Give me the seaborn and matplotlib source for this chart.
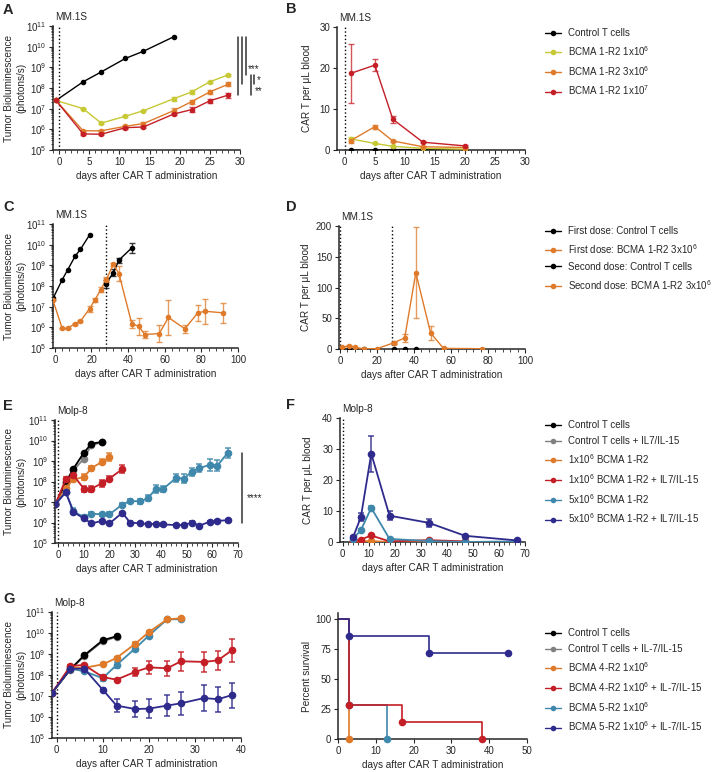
import numpy as np
import matplotlib
matplotlib.use("Agg")
import matplotlib.pyplot as plt
import matplotlib.transforms as mtransforms
from matplotlib.lines import Line2D
from matplotlib.ticker import AutoMinorLocator, LogLocator, NullFormatter
import seaborn as sns

# colours
BLACK = "#000000"
GRAY = "#808080"
LIME = "#c6c834"
ORANGE = "#de7a2a"
RED = "#c41e26"
TEAL = "#3f88ab"
NAVY = "#2f2b8c"

# ---- panel A / B : MM.1S dose titration ----
a_ctrl_x = [-0.5, 4, 7, 11, 14, 19]
a_ctrl = [2.5e7, 2e8, 6e8, 2.7e9, 6e9, 3e10]
a_days = [-0.5, 4, 7, 11, 14, 19, 22, 25, 28]
a_lo = [2.5e7, 1e7, 2e6, 4.3e6, 8e6, 3e7, 6.5e7, 2e8, 4.3e8]
a_lo_err = [0, 0.03, 0.03, 0.04, 0.03, 0.1, 0.08, 0.05, 0.04]
a_mid = [2.5e7, 8.5e5, 8.5e5, 1.4e6, 1.9e6, 8e6, 2.2e7, 6.5e7, 1.5e8]
a_mid_err = [0, 0.05, 0.05, 0.06, 0.07, 0.12, 0.1, 0.1, 0.1]
a_hi = [2.5e7, 6e5, 5.8e5, 1.2e6, 1.3e6, 5.5e6, 9e6, 2.4e7, 4.5e7]
a_hi_err = [0, 0.06, 0.05, 0.05, 0.07, 0.07, 0.12, 0.1, 0.12]

b_days = [1, 5, 8, 13, 20]
b_ctrl = [0, 0, 0.1, 0.1, 0]
b_lo = [2.7, 1.6, 0.9, 0.4, 0.2]
b_lo_err = [0.4, 0.2, 0.1, 0.1, 0.1]
b_mid = [2.3, 5.7, 2.2, 0.8, 0.6]
b_mid_err = [0.5, 0.5, 0.3, 0.1, 0.1]
b_hi = [18.7, 20.7, 7.5, 1.9, 1.0]
b_hi_err = [7.2, 1.5, 0.8, 0.3, 0.2]
ab_labels = ["Control T cells", "BCMA 1-R2 1x10$^6$", "BCMA 1-R2 3x10$^6$", "BCMA 1-R2 1x10$^7$"]

# ---- panel C / D : re-challenge ----
c_ctrl1_x = [-1, 4, 7, 11, 14, 19]
c_ctrl1 = [2.5e7, 2e8, 6e8, 2.7e9, 6e9, 3e10]
c_car1_x = [-1, 4, 7, 11, 14, 19, 22, 25, 28]
c_car1 = [2e7, 9e5, 9e5, 1.5e6, 2e6, 8e6, 2.2e7, 6.5e7, 2e8]
c_car1_err = [0, 0.03, 0.03, 0.05, 0.05, 0.15, 0.1, 0.12, 0.12]
c_ctrl2_x = [28, 32, 35, 42]
c_ctrl2 = [1.3e8, 4.5e8, 1.8e9, 7e9]
c_ctrl2_err = [0.2, 0.15, 0.12, 0.25]
c_car2_x = [28, 32, 35, 42, 46, 49, 57, 62, 71, 78, 82, 92]
c_car2 = [2e8, 1.1e9, 4e8, 1.5e6, 1.1e6, 4.5e5, 5e5, 3e6, 8.5e5, 5e6, 6e6, 5e6]
c_car2_err = [0.1, 0.05, 0.35, 0.2, 0.4, 0.15, 0.4, 0.85, 0.2, 0.4, 0.6, 0.5]

d_ctrl1_x = [1, 5, 8, 13]
d_ctrl1 = [0, 0, 0, 0]
d_car1_x = [1, 5, 8, 13, 20, 29]
d_car1 = [3, 5, 2.5, 0.5, 0.5, 10]
d_car1_err = [1, 1.5, 1, 0.3, 0.3, 2]
d_ctrl2_x = [29, 35, 41]
d_ctrl2 = [0, 0, 0]
d_car2_x = [29, 35, 41, 49, 56, 77]
d_car2 = [10, 18, 124, 26, 1, 0.5]
d_car2_err = [2, 6, 74, 12, 1, 0.3]
d_labels = ["First dose: Control T cells", "First dose: BCMA 1-R2 3x10$^6$",
            "Second dose: Control T cells", "Second dose: BCMA 1-R2 3x10$^6$"]

# ---- panel E / F : Molp-8, IL-7/IL-15 ----
e_days = [-1, 3, 6, 10, 13, 17, 20, 25, 28, 32, 35, 38, 41, 46, 49, 52, 55, 59, 62, 66]
e_ctrl = [8e6, 9e7, 4.3e8, 2.5e9, 7e9, 8.5e9]
e_ctrl_il = [8e6, 8e7, 3.5e8, 1.3e9, 6e9, 8e9]
e_low = [8e6, 5e7, 1.3e8, 1.6e8, 4.5e8, 9e8, 1.5e9]
e_low_err = [0, 0.1, 0.15, 0.15, 0.12, 0.12, 0.2]
e_low_il = [8e6, 1.3e8, 2e8, 4.5e7, 4.5e7, 8e7, 1.4e8, 4e8]
e_low_il_err = [0, 0.1, 0.12, 0.15, 0.15, 0.15, 0.1, 0.2]
e_high = [8e6, 3e7, 3.5e6, 1.8e6, 2.7e6, 2.5e6, 2.5e6, 7.5e6, 1.1e7, 1.1e7, 1.5e7,
          4.5e7, 4.5e7, 1.5e8, 1.4e8, 3e8, 4.5e8, 6.5e8, 6e8, 2.5e9]
e_high_err = [0, 0.1, 0.15, 0.1, 0.08, 0.08, 0.1, 0.1, 0.1, 0.12, 0.15, 0.2, 0.15,
              0.2, 0.2, 0.2, 0.2, 0.3, 0.25, 0.25]
e_high_il = [8e6, 3e7, 3.2e6, 1.6e6, 9e5, 1.2e6, 9e5, 3e6, 1e6, 9e5, 8.5e5, 8.5e5,
             8e5, 7.5e5, 7.5e5, 1e6, 7e5, 1.1e6, 1.2e6, 1.3e6]
e_high_il_err = [0, 0.05, 0.05, 0.05, 0.05, 0.05, 0.05, 0.05, 0.05, 0.05, 0.05,
                 0.05, 0.05, 0.05, 0.05, 0.05, 0.05, 0.05, 0.05, 0.08]

f_days = [4, 7, 11, 18, 33, 47, 67]
f_ctrl = [0, 0, 0, 0]
f_ctrl_il = [0, 0, 0, 0]
f_low = [0.1, 0.2, 0.3, 0, 0.2]
f_low_il = [0.3, 0.8, 2.1, 0.2, 0.6, 0.2]
f_high = [1, 3.8, 11, 1, 0.3, 0, 0.2]
f_high_err = [0.2, 0.5, 0.5, 0.3, 0.1, 0, 0.1]
f_high_il = [1.5, 8, 28.5, 8.5, 6.2, 2, 0.5]
f_high_il_err = [0.3, 1.2, 5.8, 1.5, 1.3, 0.4, 0.2]
ef_labels = ["Control T cells", "Control T cells + IL7/IL-15", "1x10$^6$ BCMA 1-R2",
             "1x10$^6$ BCMA 1-R2 + IL7/IL-15", "5x10$^6$ BCMA 1-R2",
             "5x10$^6$ BCMA 1-R2 + IL7/IL-15"]

# ---- panel G / survival ----
g_days = [-1, 3, 6, 10, 13, 17, 20, 24, 27, 32, 35, 38]
g_ctrl = [1.4e7, 1.9e8, 8.7e8, 4.5e9, 7e9]
g_ctrl_il = [1.4e7, 1.8e8, 8e8, 4e9, 6.5e9]
g_4r2 = [1.4e7, 2.3e8, 2.2e8, 3.2e8, 6.5e8, 3e9, 1.1e10, 4.5e10, 5e10]
g_4r2_err = [0.05, 0.05, 0.05, 0.05, 0.05, 0.08, 0.05, 0.05, 0.05]
g_5r2 = [1.4e7, 2e8, 1.5e8, 7e7, 3e8, 1.8e9, 7.5e9, 4.5e10, 4.5e10]
g_5r2_err = [0.05, 0.05, 0.05, 0.15, 0.15, 0.1, 0.08, 0.05, 0.05]
g_4r2_il = [1.4e7, 2.7e8, 3e8, 8e7, 6e7, 1.4e8, 2.3e8, 2.1e8, 4.5e8, 4.2e8, 5e8, 1.5e9]
g_4r2_il_err = [0.05, 0.05, 0.05, 0.1, 0.05, 0.2, 0.3, 0.35, 0.45, 0.48, 0.45, 0.55]
g_5r2_il = [1.4e7, 2e8, 2e8, 2e7, 3.5e6, 2.4e6, 2.5e6, 3.5e6, 4.5e6, 8e6, 7e6, 1.1e7]
g_5r2_il_err = [0.05, 0.05, 0.05, 0.08, 0.3, 0.4, 0.45, 0.5, 0.55, 0.6, 0.6, 0.6]

s_4r2_x, s_4r2 = [0, 3], [100, 0]
s_4r2_il_x, s_4r2_il = [0, 3, 17, 38], [100, 28.6, 14.3, 0]
s_5r2_x, s_5r2 = [0, 3, 13], [100, 28.6, 0]
s_5r2_il_x, s_5r2_il = [0, 3, 24, 45], [100, 85.7, 71.4, 71.4]
s_labels = ["Control T cells", "Control T cells + IL-7/IL-15", "BCMA 4-R2 1x10$^6$",
            "BCMA 4-R2 1x10$^6$ + IL-7/IL-15", "BCMA 5-R2 1x10$^6$",
            "BCMA 5-R2 1x10$^6$ + IL-7/IL-15"]

# ---------------------------------------------------------------
sns.set_style("ticks")
plt.rcParams["font.family"] = ["Liberation Sans", "DejaVu Sans"]
plt.rcParams["mathtext.fontset"] = "custom"
plt.rcParams["mathtext.rm"] = "Liberation Sans"
plt.rcParams["mathtext.it"] = "Liberation Sans:italic"
plt.rcParams["mathtext.bf"] = "Liberation Sans:bold"
plt.rcParams["axes.linewidth"] = 1.1
plt.rcParams["xtick.major.size"] = 3
plt.rcParams["ytick.major.size"] = 3
plt.rcParams["xtick.minor.size"] = 1.8
plt.rcParams["ytick.minor.size"] = 1.8
plt.rcParams["xtick.labelsize"] = 7
plt.rcParams["ytick.labelsize"] = 7
plt.rcParams["xtick.major.pad"] = 2
plt.rcParams["ytick.major.pad"] = 2

W, H = 716, 772
fig = plt.figure(figsize=(W / 100, H / 100), dpi=100)


def px_axes(l, t, r, b):
    ax = fig.add_axes([l / W, 1 - b / H, (r - l) / W, (b - t) / H])
    ax._px = (l, r)
    return ax


def ylabel_at(ax, text, right_px):
    # place the y label so its right edge sits at a given pixel column
    l, r = ax._px
    ax.set_ylabel(text, fontsize=7.2)
    ax.yaxis.set_label_coords((right_px - l) / (r - l), 0.5)


def series(ax, x, y, color, err=None, log=False, ms=4, lw=1.0):
    x = np.asarray(x, float)
    y = np.asarray(y, float)
    sns.lineplot(x=x, y=y, color=color, marker="o", markersize=ms,
                 markeredgewidth=0, linewidth=lw, estimator=None, sort=False,
                 legend=False, ax=ax, zorder=3)
    if err is not None:
        e = np.asarray(err, float)
        if log:
            lo, up = y - y / 10 ** e, y * 10 ** e - y
        else:
            lo, up = e, e
        ax.errorbar(x, y, yerr=[lo, up], fmt="none", ecolor=color, elinewidth=lw,
                    capsize=2, capthick=lw, alpha=0.75, zorder=2)


def style_log(ax):
    ax.set_yscale("log")
    ax.set_ylim(1e5, 1e11)
    ax.yaxis.set_major_locator(LogLocator(base=10, numticks=12))
    ax.yaxis.set_minor_locator(LogLocator(base=10, subs=np.arange(2, 10), numticks=12))
    ax.yaxis.set_minor_formatter(NullFormatter())
    ylabel_at(ax, "Tumor Bioluminescence\n(photons/s)", 26)


def finish(ax, tag=None):
    sns.despine(ax=ax)
    ax.xaxis.set_minor_locator(AutoMinorLocator(5))
    ax.set_xlabel("days after CAR T administration", fontsize=7.2, labelpad=3)
    if tag:
        ax.text(0.01, 1.03, tag, transform=ax.transAxes, fontsize=7.2, va="bottom", ha="left")


def vdot(ax, x):
    ax.axvline(x, color="black", linestyle=":", linewidth=1, zorder=1)


def handle(c, ms=4):
    return Line2D([0], [0], color=c, marker="o", markersize=ms, markeredgewidth=0, lw=1)


def legend_at(handles, labels, left_px, top_px):
    fig.legend(handles, labels, loc="upper left", bbox_to_anchor=(left_px / W, 1 - top_px / H),
               frameon=False, fontsize=7, borderpad=0, borderaxespad=0, handlelength=1.6,
               handletextpad=0.8, labelspacing=0.62)


# ---------------- A ----------------
axA = px_axes(53, 26, 240, 150)
series(axA, a_ctrl_x, a_ctrl, BLACK, log=True)
series(axA, a_days, a_lo, LIME, a_lo_err, log=True)
series(axA, a_days, a_mid, ORANGE, a_mid_err, log=True)
series(axA, a_days, a_hi, RED, a_hi_err, log=True)
style_log(axA)
axA.set_xlim(-1, 30)
axA.set_xticks([0, 5, 10, 15, 20, 25, 30])
vdot(axA, 0)
finish(axA, "MM.1S")
# significance brackets (x in axes fraction, y in data)
tr = mtransforms.blended_transform_factory(axA.transAxes, axA.transData)
for xf, y0, y1 in [(0.991, a_ctrl[-1], a_hi[-1]), (1.009, a_ctrl[-1], a_mid[-1]),
                   (1.030, a_ctrl[-1], a_lo[-1]), (1.059, a_lo[-1], a_hi[-1]),
                   (1.075, a_lo[-1], a_mid[-1])]:
    axA.plot([xf, xf], [y0, y1], color="#333333", lw=1.1, transform=tr, clip_on=False)
axA.text(1.042, 10 ** 8.9, "***", transform=tr, fontsize=7, va="center", ha="left")
axA.text(1.088, 10 ** 8.37, "*", transform=tr, fontsize=7, va="center", ha="left")
axA.text(1.080, 10 ** 7.85, "**", transform=tr, fontsize=7, va="center", ha="left")

# ---------------- B ----------------
axB = px_axes(337, 27, 525, 150)
series(axB, b_days, b_ctrl, BLACK)
series(axB, b_days, b_lo, LIME, b_lo_err)
series(axB, b_days, b_mid, ORANGE, b_mid_err)
series(axB, b_days, b_hi, RED, b_hi_err)
axB.set_xlim(-1.3, 30)
axB.set_ylim(0, 30)
axB.set_xticks([0, 5, 10, 15, 20, 25, 30])
axB.set_yticks([0, 10, 20, 30])
ylabel_at(axB, "CAR T per μL blood", 312)
vdot(axB, 0)
finish(axB, "MM.1S")
legend_at([handle(c) for c in [BLACK, LIME, ORANGE, RED]], ab_labels, 545, 28)

# ---------------- C ----------------
axC = px_axes(53, 224, 238, 348)
series(axC, c_ctrl1_x, c_ctrl1, BLACK, log=True)
series(axC, c_car1_x, c_car1, ORANGE, c_car1_err, log=True)
series(axC, c_ctrl2_x, c_ctrl2, BLACK, c_ctrl2_err, log=True)
series(axC, c_car2_x, c_car2, ORANGE, c_car2_err, log=True)
style_log(axC)
axC.set_xlim(-1, 100)
axC.set_xticks([0, 20, 40, 60, 80, 100])
vdot(axC, 28)
finish(axC, "MM.1S")

# ---------------- D ----------------
axD = px_axes(339, 226, 525, 349)
series(axD, d_ctrl1_x, d_ctrl1, BLACK)
series(axD, d_car1_x, d_car1, ORANGE, d_car1_err)
series(axD, d_ctrl2_x, d_ctrl2, BLACK)
series(axD, d_car2_x, d_car2, ORANGE, d_car2_err)
axD.set_xlim(-0.5, 100)
axD.set_ylim(0, 200)
axD.set_xticks([0, 20, 40, 60, 80, 100])
axD.set_yticks([0, 50, 100, 150, 200])
ylabel_at(axD, "CAR T per μL blood", 311)
vdot(axD, 0)
vdot(axD, 28)
finish(axD, "MM.1S")
legend_at([handle(c) for c in [BLACK, ORANGE, BLACK, ORANGE]], d_labels, 545, 226)

# ---------------- E ----------------
axE = px_axes(55.5, 420, 238, 543)
ms_e = 5.5
series(axE, e_days[:6], e_ctrl_il, GRAY, log=True, ms=ms_e, lw=1.3)
series(axE, e_days[:6], e_ctrl, BLACK, log=True, ms=ms_e, lw=1.3)
series(axE, e_days[:7], e_low, ORANGE, e_low_err, log=True, ms=ms_e, lw=1.3)
series(axE, e_days[:8], e_low_il, RED, e_low_il_err, log=True, ms=ms_e, lw=1.3)
series(axE, e_days, e_high, TEAL, e_high_err, log=True, ms=ms_e, lw=1.3)
series(axE, e_days, e_high_il, NAVY, e_high_il_err, log=True, ms=ms_e, lw=1.3)
style_log(axE)
axE.set_xlim(-1, 70)
axE.set_xticks([0, 10, 20, 30, 40, 50, 60, 70])
vdot(axE, 0)
finish(axE, "Molp-8")
trE = mtransforms.blended_transform_factory(axE.transAxes, axE.transData)
axE.plot([1.022, 1.022], [e_high[-1], 9.6e5], color="#333333", lw=1.1, transform=trE, clip_on=False)
axE.text(1.05, 10 ** 7.2, "****", transform=trE, fontsize=7, va="center", ha="left")

# ---------------- F ----------------
axF = px_axes(340, 418, 525, 542)
series(axF, f_days[:4], f_ctrl_il, GRAY, ms=ms_e, lw=1.3)
series(axF, f_days[:4], f_ctrl, BLACK, ms=ms_e, lw=1.3)
series(axF, f_days[:5], f_low, ORANGE, ms=ms_e, lw=1.3)
series(axF, f_days[:6], f_low_il, RED, ms=ms_e, lw=1.3)
series(axF, f_days, f_high, TEAL, f_high_err, ms=ms_e, lw=1.3)
series(axF, f_days, f_high_il, NAVY, f_high_il_err, ms=ms_e, lw=1.3)
axF.set_xlim(-1, 70)
axF.set_ylim(0, 40)
axF.set_xticks([0, 10, 20, 30, 40, 50, 60, 70])
axF.set_yticks([0, 10, 20, 30, 40])
ylabel_at(axF, "CAR T per μL blood", 313)
vdot(axF, 0)
finish(axF, "Molp-8")
legend_at([handle(c) for c in [BLACK, GRAY, ORANGE, RED, TEAL, NAVY]], ef_labels, 545, 420)

# ---------------- G ----------------
axG = px_axes(52, 612, 241, 738)
series(axG, g_days[:5], g_ctrl_il, GRAY, log=True, ms=ms_e, lw=1.3)
series(axG, g_days[:5], g_ctrl, BLACK, log=True, ms=ms_e, lw=1.3)
series(axG, g_days[:9], g_5r2, TEAL, g_5r2_err, log=True, ms=ms_e, lw=1.3)
series(axG, g_days[:9], g_4r2, ORANGE, g_4r2_err, log=True, ms=ms_e, lw=1.3)
series(axG, g_days, g_4r2_il, RED, g_4r2_il_err, log=True, ms=ms_e, lw=1.3)
series(axG, g_days, g_5r2_il, NAVY, g_5r2_il_err, log=True, ms=ms_e, lw=1.3)
style_log(axG)
axG.set_xlim(-1, 40)
axG.set_xticks([0, 10, 20, 30, 40])
vdot(axG, 0)
finish(axG, "Molp-8")

# ---------------- survival ----------------
axS = px_axes(338, 613, 527, 739)
for sx, sy, c in [(s_4r2_x, s_4r2, ORANGE), (s_5r2_x, s_5r2, TEAL),
                  (s_4r2_il_x, s_4r2_il, RED), (s_5r2_il_x, s_5r2_il, NAVY)]:
    sns.lineplot(x=sx, y=sy, color=c, drawstyle="steps-post", linewidth=1.2,
                 estimator=None, sort=False, legend=False, ax=axS)
    sns.scatterplot(x=sx[1:], y=sy[1:], color=c, s=30, linewidth=0, legend=False,
                    ax=axS, zorder=4, clip_on=False)
axS.set_xlim(0, 50)
axS.set_ylim(0, 105)
axS.set_xticks([0, 10, 20, 30, 40, 50])
axS.set_yticks([0, 25, 50, 75, 100])
ylabel_at(axS, "Percent survival", 312)
axS.set_xlabel("days after CAR T administration", fontsize=7.2, labelpad=3)
sns.despine(ax=axS)
legend_at([handle(c) for c in [BLACK, GRAY, ORANGE, RED, TEAL, NAVY]], s_labels, 545, 628)

# panel letters
for letter, xp, yp in [("A", 3, 10), ("B", 286, 9), ("C", 3, 207), ("D", 286, 207),
                       ("E", 3, 406), ("F", 286, 405), ("G", 3, 599)]:
    fig.text(xp / W, 1 - yp / H, letter, fontsize=10.5, fontweight="bold", va="center", ha="left")

fig.savefig("out.png", dpi=100)
